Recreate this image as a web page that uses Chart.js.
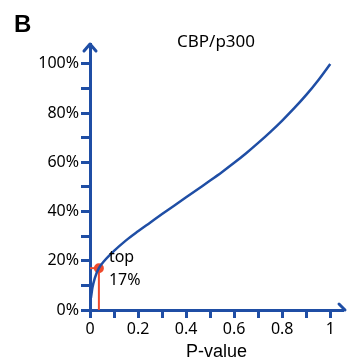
<!DOCTYPE html>
<html>
<head>
<meta charset="utf-8">
<script src="https://cdn.jsdelivr.net/npm/chart.js@4.4.0/dist/chart.umd.min.js"></script>
<style>
  html, body { margin: 0; padding: 0; background: #fff; }
  #wrap { width: 349px; height: 363px; }
</style>
</head>
<body>
<div id="wrap"><canvas id="c" width="349" height="363"></canvas></div>
<script>
// curve (P-value -> % of hits)
const pValues = [0.004, 0.01, 0.02, 0.037, 0.06, 0.1, 0.15, 0.2, 0.25, 0.3, 0.35, 0.4, 0.45,
                 0.5, 0.55, 0.6, 0.65, 0.7, 0.75, 0.8, 0.85, 0.9, 0.95, 1.0];
const percents = [5, 9, 13, 17, 20, 24, 28.3, 32, 35.5, 39, 42.4, 45.8, 49.2,
                  52.6, 56.1, 59.8, 63.7, 67.9, 72.3, 77, 82, 87.4, 93.4, 100];

// marked cutoff
const topP = 0.037;
const topPct = 17;
const topLabels = ['top', '17%'];

const xTicks = [0, 0.1, 0.2, 0.3, 0.4, 0.5, 0.6, 0.7, 0.8, 0.9, 1];
const yTicks = [0, 10, 20, 30, 40, 50, 60, 70, 80, 90, 100];

const panelLabel = 'B';
const chartTitle = 'CBP/p300';
const xTitle = 'P-value';

const blue = '#1f4ea5';
const red = '#ef4a2c';

const curve = pValues.map((p, i) => ({ x: p, y: percents[i] }));

// arrows, panel letter, title and the "top 17%" note
const extras = {
    id: 'extras',
    afterDraw(chart) {
        const ctx = chart.ctx;
        const a = chart.chartArea;
        const xs = chart.scales.x, ys = chart.scales.y;
        ctx.save();
        ctx.strokeStyle = blue;
        ctx.lineWidth = 3;
        ctx.lineCap = 'round';
        ctx.lineJoin = 'round';
        // y arrow
        ctx.beginPath();
        ctx.moveTo(a.left - 6, a.top + 7);
        ctx.lineTo(a.left, a.top);
        ctx.lineTo(a.left + 6, a.top + 7);
        ctx.stroke();
        // x arrow (cut by the edge)
        ctx.beginPath();
        ctx.moveTo(a.right - 4, a.bottom - 6);
        ctx.lineTo(a.right + 2, a.bottom);
        ctx.stroke();

        ctx.fillStyle = '#000';
        ctx.font = 'bold 24px "Liberation Sans", Arial, sans-serif';
        ctx.textBaseline = 'alphabetic';
        ctx.textAlign = 'left';
        ctx.fillText(panelLabel, 14, 32);

        ctx.font = '17px "Noto Sans", sans-serif';
        ctx.textAlign = 'center';
        ctx.fillText(chartTitle, 216, 47);

        ctx.font = '16px "Noto Sans", sans-serif';
        ctx.textAlign = 'left';
        const px = xs.getPixelForValue(topP) + 10;
        const py = ys.getPixelForValue(topPct);
        ctx.fillText(topLabels[0], px, py - 6);
        ctx.fillText(topLabels[1], px, py + 17);
        ctx.restore();
    }
};

new Chart(document.getElementById('c'), {
    type: 'scatter',
    data: {
        datasets: [
            {
                data: curve,
                showLine: true,
                borderColor: blue,
                borderWidth: 2.5,
                pointRadius: 0,
                cubicInterpolationMode: 'monotone'
            },
            {
                data: [{ x: topP, y: 0 }, { x: topP, y: topPct }],
                showLine: true,
                borderColor: red,
                borderWidth: 2,
                pointRadius: 0
            },
            {
                data: [{ x: 0, y: topPct }, { x: topP, y: topPct }],
                showLine: true,
                borderColor: red,
                borderWidth: 2,
                pointRadius: [0, 4],
                pointBackgroundColor: red,
                pointBorderColor: red
            }
        ]
    },
    options: {
        responsive: false,
        animation: false,
        layout: { padding: { top: 44, left: 0, right: 0, bottom: 0 } },
        plugins: {
            legend: { display: false },
            tooltip: { enabled: false }
        },
        scales: {
            x: {
                type: 'linear',
                min: 0,
                max: 1.053,
                afterBuildTicks: s => { s.ticks = xTicks.map(v => ({ value: v })); },
                afterFit: s => { s.height = 53; },
                ticks: {
                    color: '#000',
                    font: { family: '"Noto Sans", sans-serif', size: 16 },
                    padding: 2,
                    maxRotation: 0,
                    minRotation: 0,
                    autoSkip: false,
                    callback: v => (Math.round(v * 10) % 2 === 0 ? String(Math.round(v * 10) / 10) : '')
                },
                grid: {
                    drawOnChartArea: false,
                    drawTicks: true,
                    tickLength: 8,
                    tickWidth: 3,
                    tickColor: blue
                },
                border: { display: true, color: blue, width: 3 },
                title: {
                    display: true,
                    text: xTitle,
                    color: '#000',
                    font: { family: '"Liberation Sans", Arial, sans-serif', size: 18 },
                    padding: { top: 0, bottom: 0 }
                }
            },
            y: {
                type: 'linear',
                min: 0,
                max: 108.1,
                afterBuildTicks: s => { s.ticks = yTicks.map(v => ({ value: v })); },
                afterFit: s => { s.width = 90; },
                ticks: {
                    color: '#000',
                    font: { family: '"Noto Sans", sans-serif', size: 16 },
                    padding: 2,
                    callback: v => (Math.round(v) % 20 === 0 ? Math.round(v) + '%' : '')
                },
                grid: {
                    drawOnChartArea: false,
                    drawTicks: true,
                    tickLength: 9,
                    tickWidth: 3,
                    tickColor: blue
                },
                border: { display: true, color: blue, width: 3 }
            }
        }
    },
    plugins: [extras]
});
</script>
</body>
</html>
